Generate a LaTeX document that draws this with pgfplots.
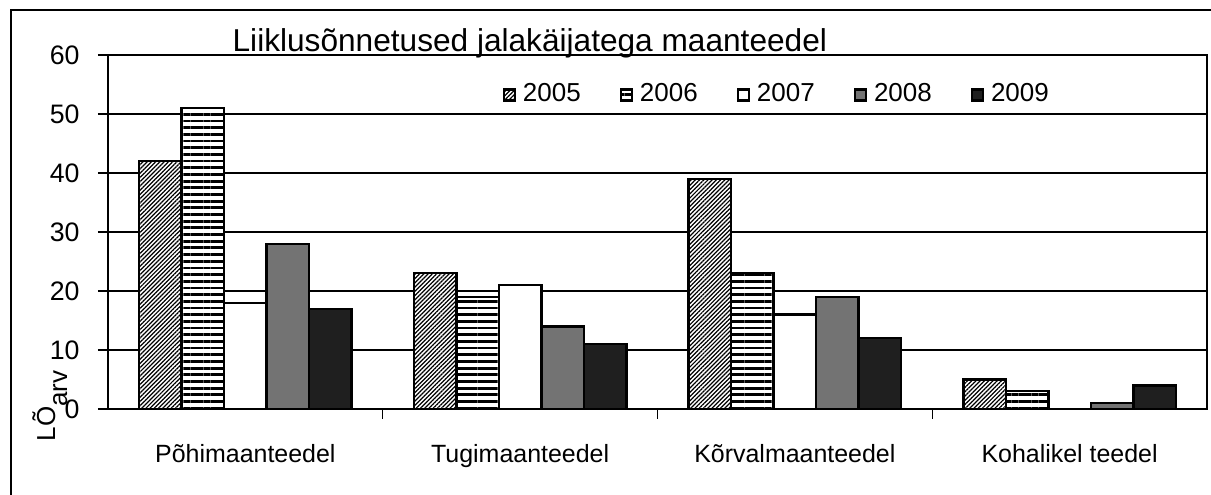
\documentclass[border=0pt]{standalone}
\usepackage{fontspec}
\setmainfont{Liberation Sans}
\usepackage{pgfplots}
\pgfplotsset{compat=1.18}
\usetikzlibrary{patterns.meta}
\pgfplotsset{every axis title shift=0pt}
\begin{document}
\begin{tikzpicture}
\useasboundingbox (0,0) rectangle (12.11cm,4.95cm);
\draw[line width=0.4pt] (0.11cm,0cm) -- (0.11cm,4.85cm) -- (12.11cm,4.85cm);
\begin{axis}[
  at={(1.08cm,0.86cm)}, anchor=south west,
  scale only axis, width=10.99cm, height=3.54cm,
  ybar=0pt, bar width=0.1547,
  xmin=-0.5, xmax=3.5, ymin=0, ymax=60,
  ytick={0,10,...,60},
  xtick={0.5,1.5,2.5}, xticklabels={},
  extra x ticks={0,1,2,3},
  extra x tick labels={Põhimaanteedel,Tugimaanteedel,Kõrvalmaanteedel,Kohalikel teedel},
  extra x tick style={tick style={draw=none}, grid=none,
     xticklabel style={anchor=north, yshift=-1.3mm, font=\fontsize{7.1}{8}\selectfont}},
  xtick pos=bottom, ytick pos=left,
  tick align=outside, major tick length=1mm,
  tick style={black, line width=0.4pt},
  ymajorgrids, grid style={black, line width=0.35pt},
  axis line style={black, line width=0.5pt},
  yticklabel style={font=\fontsize{7.6}{8}\selectfont, anchor=east, xshift=-0.6mm},
  /pgf/number format/assume math mode=true,
  ylabel={LÕ\raisebox{-1.2mm}{arv}},
  ylabel style={at={(axis description cs:-0.048,-0.093)}, anchor=base west, inner sep=0pt, font=\fontsize{7.4}{8}\selectfont},
  title={Liiklusõnnetused jalakäijatega maanteedel},
  title style={at={(axis description cs:0.1128,1.0085)}, anchor=base west, inner sep=0pt, font=\fontsize{9}{10}\selectfont},
  legend style={at={(axis description cs:0.349,0.887)}, anchor=west, draw=none, fill=none,
     legend columns=5, font=\fontsize{7.4}{8}\selectfont,
     /tikz/every even column/.append style={column sep=3.2mm}},
  legend image code/.code={\draw[#1, line width=0.6pt] (0cm,-0.55mm) rectangle (1.1mm,0.55mm);},
  every axis plot/.append style={draw=black, line width=0.65pt},
]
\addplot[fill=white, postaction={pattern={Lines[angle=45,distance=0.85pt,line width=0.35pt]}}]
  coordinates {(0,42) (1,23) (2,39) (3,5)};
\addplot[fill=white, postaction={pattern={Lines[angle=0,distance=1.9pt,line width=0.8pt]}}]
  coordinates {(0,51) (1,19) (2,23) (3,3)};
\addplot[fill=white]
  coordinates {(0,18) (1,21) (2,16) (3,0)};
\addplot[fill=black!55]
  coordinates {(0,28) (1,14) (2,19) (3,1)};
\addplot[fill=black!88]
  coordinates {(0,17) (1,11) (2,12) (3,4)};
\legend{2005,2006,2007,2008,2009}
\end{axis}
\end{tikzpicture}
\end{document}
